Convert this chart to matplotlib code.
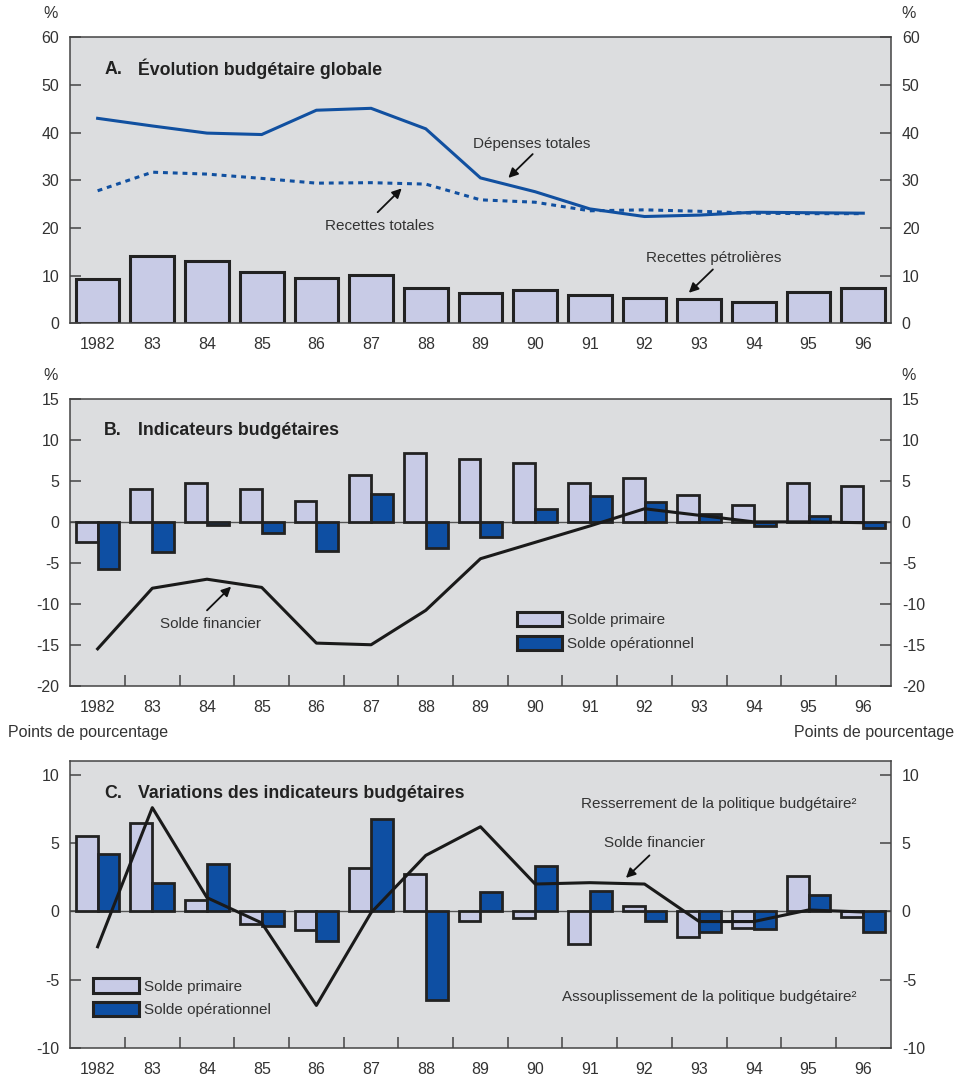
import matplotlib
matplotlib.use("Agg")
import matplotlib.pyplot as plt
import numpy as np
from matplotlib.patches import Patch

plt.rcParams['font.family'] = ['Liberation Sans', 'DejaVu Sans']

# ---- data -------------------------------------------------------------
years = ['1982', '83', '84', '85', '86', '87', '88', '89', '90',
         '91', '92', '93', '94', '95', '96']

# A. Évolution budgétaire globale (% du PIB)
depenses_totales = [43.0, 41.4, 39.9, 39.6, 44.7, 45.1, 40.8, 30.5,
                    27.6, 24.0, 22.4, 22.7, 23.3, 23.2, 23.1]
recettes_totales = [27.8, 31.7, 31.3, 30.4, 29.4, 29.5, 29.2, 25.9,
                    25.4, 23.6, 23.8, 23.5, 23.1, 23.0, 23.0]
recettes_petrolieres = [9.2, 14.1, 13.0, 10.7, 9.6, 10.1, 7.3, 6.4,
                        7.0, 5.9, 5.4, 5.1, 4.5, 6.6, 7.4]

# B. Indicateurs budgétaires (% du PIB)
b_solde_primaire = [-2.5, 4.0, 4.8, 4.0, 2.6, 5.7, 8.4, 7.7,
                    7.2, 4.8, 5.3, 3.3, 2.1, 4.7, 4.4]
b_solde_operationnel = [-5.8, -3.7, -0.4, -1.3, -3.5, 3.4, -3.2, -1.8,
                        1.6, 3.1, 2.4, 0.9, -0.5, 0.7, -0.8]
b_solde_financier = [-15.5, -8.1, -7.0, -8.0, -14.8, -15.0, -10.8, -4.5,
                     -2.5, -0.5, 1.6, 0.8, 0.0, 0.0, -0.1]

# C. Variations des indicateurs budgétaires (points de pourcentage)
c_solde_primaire = [5.5, 6.5, 0.8, -0.9, -1.4, 3.2, 2.7, -0.7,
                    -0.5, -2.4, 0.4, -1.9, -1.2, 2.6, -0.4]
c_solde_operationnel = [4.2, 2.1, 3.5, -1.1, -2.2, 6.8, -6.5, 1.4,
                        3.3, 1.5, -0.7, -1.5, -1.3, 1.2, -1.5]
c_solde_financier = [-2.6, 7.6, 1.0, -0.85, -6.9, -0.1, 4.1, 6.2,
                     2.0, 2.1, 2.0, -0.75, -0.75, 0.1, -0.05]

# ---- style ------------------------------------------------------------
BG = '#DCDDDF'
LIGHT = '#C8CBE6'
DARK = '#0E4FA3'
LINE_BLUE = '#1150A0'
EDGE = '#222222'
SPINE = '#444444'
TXT = '#333333'
TICK_FS = 11.5
ANN_FS = 11
TITLE_FS = 12.8

x = np.arange(len(years))

fig = plt.figure(figsize=(9.64, 10.78), dpi=100)
L, W = 0.0729, 0.851
axA = fig.add_axes([L, 0.7001, W, 0.2653])
axB = fig.add_axes([L, 0.3639, W, 0.2660])
axC = fig.add_axes([L, 0.0281, W, 0.2657])


def style_axes(ax, yticks, ylim, minor_x=True):
    ax.set_facecolor(BG)
    ax.set_xlim(-0.5, len(years) - 0.5)
    ax.set_ylim(*ylim)
    for s in ax.spines.values():
        s.set_color(SPINE)
        s.set_linewidth(1.1)
    ax.set_yticks(yticks)
    ax.set_yticklabels([str(v) for v in yticks])
    ax.tick_params(axis='y', which='major', direction='in', length=8,
                   width=1.1, color=SPINE, left=True, right=True,
                   labelleft=True, labelright=True, pad=8,
                   labelsize=TICK_FS, labelcolor=TXT)
    ax.set_xticks(x)
    ax.set_xticklabels(years)
    ax.tick_params(axis='x', which='major', length=0, pad=10,
                   labelsize=TICK_FS, labelcolor=TXT)
    if minor_x:
        ax.set_xticks(x[:-1] + 0.5, minor=True)
        ax.tick_params(axis='x', which='minor', direction='in', length=8,
                       width=1.1, color=SPINE)


def panel_title(ax, letter, title):
    ax.text(0.0414, 0.889, letter, transform=ax.transAxes, fontsize=TITLE_FS,
            fontweight='bold', color='#222222', va='center', ha='left')
    ax.text(0.0829, 0.889, title, transform=ax.transAxes, fontsize=TITLE_FS,
            fontweight='bold', color='#222222', va='center', ha='left')


def note(ax, text, xy_text, xy_head, xy_tail, ha='center'):
    ax.text(*xy_text, text, fontsize=ANN_FS, color=TXT, ha=ha, va='center')
    if xy_head is not None:
        ax.annotate('', xy=xy_head, xytext=xy_tail,
                    arrowprops=dict(arrowstyle='-|>', color='#111111',
                                    lw=1.3, mutation_scale=14,
                                    shrinkA=0, shrinkB=0))


# ---- Panel A ----------------------------------------------------------
style_axes(axA, [0, 10, 20, 30, 40, 50, 60], (0, 60), minor_x=False)
axA.bar(x, recettes_petrolieres, width=0.8, color=LIGHT, edgecolor=EDGE,
        linewidth=2.2, zorder=2)
axA.plot(x, depenses_totales, color=LINE_BLUE, lw=2.2, zorder=3,
         solid_joinstyle='miter')
axA.plot(x, recettes_totales, color=LINE_BLUE, lw=2.2, zorder=3,
         dashes=(1.6, 1.6))
panel_title(axA, 'A.', 'Évolution budgétaire globale')
note(axA, 'Dépenses totales', (7.94, 37.6), (7.51, 30.5), (7.955, 35.5))
note(axA, 'Recettes totales', (5.16, 20.4), (5.56, 28.3), (5.12, 23.3))
note(axA, 'Recettes pétrolières', (11.27, 13.8), (10.81, 6.4), (11.25, 11.3))


# ---- Panel B ----------------------------------------------------------
def balance_panel(ax, prim, oper, fin):
    ax.axhline(0, color='#555555', lw=1.0, zorder=1)
    ax.bar(x - 0.2, prim, width=0.4, color=LIGHT, edgecolor=EDGE,
           linewidth=2.0, zorder=2)
    ax.bar(x + 0.2, oper, width=0.4, color=DARK, edgecolor=EDGE,
           linewidth=2.0, zorder=2)
    ax.plot(x, fin, color='#1A1A1A', lw=2.2, zorder=3)


def legend(ax, anchor):
    handles = [Patch(facecolor=LIGHT, edgecolor=EDGE, linewidth=2.2),
               Patch(facecolor=DARK, edgecolor=EDGE, linewidth=2.2)]
    leg = ax.legend(handles, ['Solde primaire', 'Solde opérationnel'],
                    loc='upper left', bbox_to_anchor=anchor, frameon=False,
                    fontsize=ANN_FS, handlelength=3.0, handleheight=1.05,
                    handletextpad=0.3, labelspacing=0.55, borderpad=0,
                    borderaxespad=0)
    for t in leg.get_texts():
        t.set_color(TXT)


style_axes(axB, [-20, -15, -10, -5, 0, 5, 10, 15], (-20, 15))
balance_panel(axB, b_solde_primaire, b_solde_operationnel, b_solde_financier)
panel_title(axB, 'B.', 'Indicateurs budgétaires')
note(axB, 'Solde financier', (2.07, -12.5), (2.44, -7.9), (2.0, -10.8))
legend(axB, (0.544, 0.257))

# ---- Panel C ----------------------------------------------------------
style_axes(axC, [-10, -5, 0, 5, 10], (-10, 11))
balance_panel(axC, c_solde_primaire, c_solde_operationnel, c_solde_financier)
panel_title(axC, 'C.', 'Variations des indicateurs budgétaires')
note(axC, 'Solde financier', (10.18, 5.0), (9.66, 2.45), (10.09, 4.1))
note(axC, 'Resserrement de la politique budgétaire²', (13.88, 7.9),
     None, None, ha='right')
note(axC, 'Assouplissement de la politique budgétaire²', (13.88, -6.3),
     None, None, ha='right')
legend(axC, (0.028, 0.242))

# ---- unit labels ------------------------------------------------------
def fig_px(px, py, s, ha):
    fig.text(px / 964, 1 - py / 1078, s, fontsize=TICK_FS, color=TXT,
             ha=ha, va='center')

fig_px(51, 13, '%', 'center')
fig_px(909, 13, '%', 'center')
fig_px(51, 376, '%', 'center')
fig_px(909, 376, '%', 'center')
fig_px(8, 733, 'Points de pourcentage', 'left')
fig_px(954, 733, 'Points de pourcentage', 'right')

fig.savefig('out.png', dpi=100)
